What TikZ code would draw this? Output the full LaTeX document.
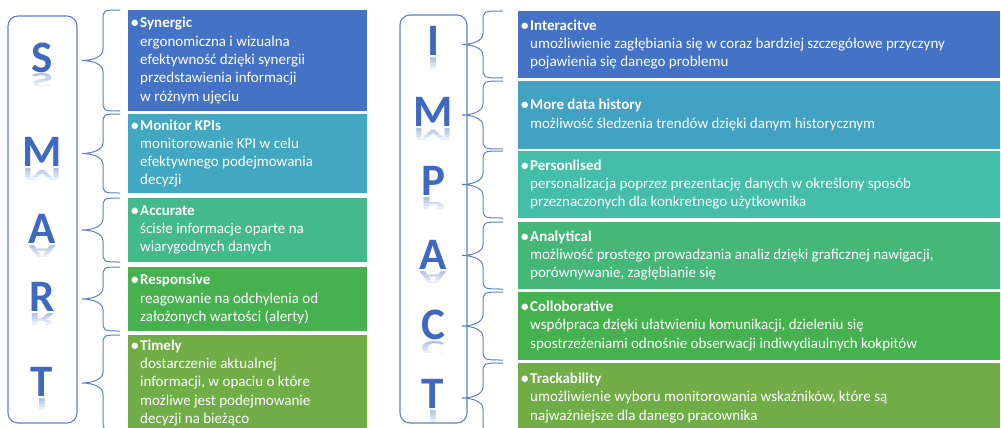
\documentclass[tikz,border=0pt]{standalone}
\usepackage{fontspec}
\setmainfont{Carlito}
\usetikzlibrary{calc}

\definecolor{frame}{HTML}{5A82CD}
\definecolor{letterblue}{HTML}{3F69BE}
\definecolor{cA}{HTML}{4472C4}
\definecolor{cB}{HTML}{42A7C0}
\definecolor{cC}{HTML}{44BA8C}
\definecolor{cD}{HTML}{46B14E}
\definecolor{cE}{HTML}{70AD47}
\definecolor{dB}{HTML}{43A1C2}
\definecolor{dC}{HTML}{44BDA9}
\definecolor{dD}{HTML}{45B878}
\definecolor{dE}{HTML}{46B14F}

% bullet + bold heading of a box
\newcommand{\head}[1]{\llap{\textbf{•}\hspace{1.5pt}}\textbf{#1}}

% coloured box with its text: name, x, y, width, height, colour, text
\newcommand{\infobox}[7]{%
  \node[box, fill=#6, minimum width=#4, minimum height=#5] (#1) at (#2,#3) {};
  \node[txt] (#1t) at ([xshift=12pt]#1.west) {#7};
}

% big letter with a faint, squashed mirror image below: name, x, baseline y, letter
\newcommand{\bigletter}[4]{%
  \node[letterstyle] (#1) at (#2,#3) {#4};
  \foreach \h in {3,6,9,12}{
    \begin{scope}
      \clip (#2-30,#3+1) rectangle (#2+30,#3+1+\h);
      \begin{scope}[shift={(#2,#3+2)}, yscale=-0.5]
        \node[letterstyle, transform shape, opacity=0.11] at (0,0) {#4};
      \end{scope}
    \end{scope}
  }
}

% curly brace from a letter column to a box: column, box, tip offset, end gap
\newcommand{\curly}[4]{%
  \coordinate (#2tip) at ($(#1.east |- #2.west)+(#3,0)$);
  \coordinate (#2top) at ($(#2.north west)+(-#4,0)$);
  \coordinate (#2bot) at ($(#2.south west)+(-#4,0)$);
  \draw[bracestyle] (#2top) .. controls ($(#2tip|-#2top)+(21,0)$) .. ($(#2tip|-#2top)+(21,11)$)
    -- ($(#2tip)+(21,-11)$) .. controls ($(#2tip)+(21,-3)$) and ($(#2tip)+(9,0)$) .. (#2tip)
    .. controls ($(#2tip)+(9,0)$) and ($(#2tip)+(21,3)$) .. ($(#2tip)+(21,11)$)
    -- ($(#2tip|-#2bot)+(21,-11)$) .. controls ($(#2tip|-#2bot)+(21,0)$) .. (#2bot);
}

\begin{document}
\begin{tikzpicture}[x=1pt, y=-1pt,
  box/.style={rectangle, draw=none, inner sep=0pt, outer sep=0pt, anchor=north west},
  txt/.style={anchor=west, align=left, inner sep=0pt, text=white,
    font=\fontsize{15}{18.3}\selectfont},
  column/.style={draw=frame, line width=1.1pt, rounded corners=10pt, inner sep=0pt,
    outer sep=0pt, anchor=north west},
  bracestyle/.style={draw=frame, line width=1pt},
  letterstyle/.style={anchor=base, inner sep=0pt, text=letterblue,
    font=\bfseries\fontsize{45}{45}\selectfont}]

\useasboundingbox[fill=white] (0,0) rectangle (1001,428);

% ---------- SMART ----------
\node[column, minimum width=69, minimum height=407] (smart) at (8,16) {};
\bigletter{sS}{42}{72}{S}
\bigletter{sM}{42}{166}{M}
\bigletter{sA}{42}{243}{A}
\bigletter{sR}{42}{311}{R}
\bigletter{sT}{42}{396}{T}

\infobox{l1}{128}{10}{239}{101}{cA}{\head{Synergic}\\ergonomiczna i wizualna\\efektywność dzięki synergii\\przedstawienia informacji\\w różnym ujęciu}
\infobox{l2}{128}{114}{239}{79}{cB}{\head{Monitor KPIs}\\monitorowanie KPI w celu\\efektywnego podejmowania\\decyzji}
\infobox{l3}{128}{198}{239}{64}{cC}{\head{Accurate}\\ścisłe informacje oparte na\\wiarygodnych danych}
\infobox{l4}{128}{267}{239}{64}{cD}{\head{Responsive}\\reagowanie na odchylenia od\\założonych wartości (alerty)}
\infobox{l5}{128}{335}{239}{96}{cE}{\head{Timely}\\dostarczenie aktualnej\\informacji, w opaciu o które\\możliwe jest podejmowanie\\decyzji na bieżąco}

\foreach \b in {l1,l2,l3,l4,l5}{\curly{smart}{\b}{5}{8}}

% ---------- IMPACT ----------
\node[column, minimum width=67, minimum height=408] (impact) at (400,15) {};
\bigletter{iI}{433}{56}{I}
\bigletter{iM}{433}{126}{M}
\bigletter{iP}{433}{195}{P}
\bigletter{iA}{433}{269}{A}
\bigletter{iC}{433}{339}{C}
\bigletter{iT}{433}{408}{T}

\infobox{r1}{518}{11}{482}{67}{cA}{\head{Interacitve}\\umożliwienie zagłębiania się w coraz bardziej szczegółowe przyczyny\\pojawienia się danego problemu}
\infobox{r2}{518}{81}{482}{68}{dB}{\head{More data history}\\możliwość śledzenia trendów dzięki danym historycznym}
\infobox{r3}{518}{151}{482}{67}{dC}{\head{Personlised}\\personalizacja poprzez prezentację danych w określony sposób\\przeznaczonych dla konkretnego użytkownika}
\infobox{r4}{518}{222}{482}{67}{dD}{\head{Analytical}\\możliwość prostego prowadzania analiz dzięki graficznej nawigacji,\\porównywanie, zagłębianie się}
\infobox{r5}{518}{292}{482}{68}{dE}{\head{Colloborative}\\współpraca dzięki ułatwieniu komunikacji, dzieleniu się\\spostrzeżeniami odnośnie obserwacji indiwydiaulnych kokpitów}
\infobox{r6}{518}{363}{482}{70}{cE}{\head{Trackability}\\umożliwienie wyboru monitorowania wskaźników, które są\\najważniejsze dla danego pracownika}

\foreach \b in {r1,r2,r3,r4,r5,r6}{\curly{impact}{\b}{-5}{15}}

\end{tikzpicture}
\end{document}
